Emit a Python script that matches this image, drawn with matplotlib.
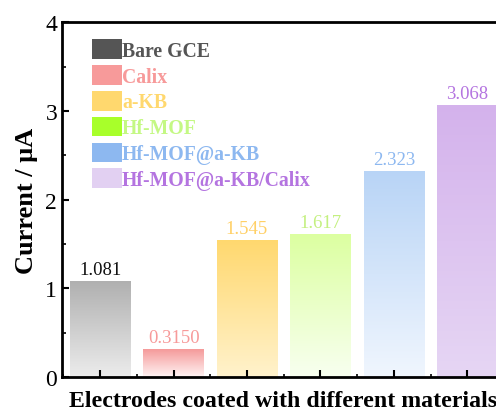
import numpy as np
import matplotlib
matplotlib.use('Agg')
import matplotlib.pyplot as plt
from matplotlib.colors import LinearSegmentedColormap
from matplotlib.patches import Patch
from matplotlib.ticker import MultipleLocator

labels = ['Bare GCE', 'Calix', 'a-KB', 'Hf-MOF', 'Hf-MOF@a-KB', 'Hf-MOF@a-KB/Calix']
values = [1.081, 0.3150, 1.545, 1.617, 2.323, 3.068]
value_text = ['1.081', '0.3150', '1.545', '1.617', '2.323', '3.068']

top_colors = ['#b0b0b0', '#f59a9a', '#ffd86e', '#dcffa0', '#b8d4f6', '#d4b2ec']
bottom_colors = ['#ececec', '#fff4f4', '#fff2cc', '#f8fff0', '#f0f6fe', '#e6d6f4']
legend_colors = ['#555555', '#f79a9a', '#ffd86e', '#a8ff2a', '#8db8f0', '#e2d0f2']
legend_text_colors = ['#555555', '#f79a9a', '#ffd86e', '#c4f884', '#8db8f0', '#b474e0']
value_colors = ['#111111', '#f79a9a', '#ffd066', '#c4f080', '#8db8f0', '#b474e0']

plt.rcParams['font.family'] = ['Liberation Serif', 'DejaVu Serif']

fig = plt.figure(figsize=(4.96, 4.14), dpi=100)
ax = fig.add_axes([0.125, 0.087, 0.891, 0.857])

x = np.arange(len(values))
width = 0.82
bars = ax.bar(x, values, width=width, color='none', edgecolor='none')
grad = np.linspace(0, 1, 256).reshape(-1, 1)
for i, b in enumerate(bars):
    cmap = LinearSegmentedColormap.from_list('g%d' % i, [bottom_colors[i], top_colors[i]])
    im = ax.imshow(grad, cmap=cmap, origin='lower', aspect='auto',
                   extent=(x[i] - width / 2, x[i] + width / 2, 0, values[i]), zorder=1)
    im.set_clip_path(b)
    ax.text(x[i], values[i] + 0.03, value_text[i], ha='center', va='bottom',
            fontsize=13.5, color=value_colors[i])

ax.set_xlim(-0.52, 5.5)
ax.set_ylim(0, 4)
ax.set_xticks(x)
ax.set_xticklabels([])
ax.xaxis.set_minor_locator(MultipleLocator(0.5))
ax.yaxis.set_major_locator(MultipleLocator(1))
ax.yaxis.set_minor_locator(MultipleLocator(0.5))
ax.tick_params(axis='both', which='major', direction='in', length=5, width=1.5, labelsize=17)
ax.tick_params(axis='both', which='minor', direction='in', length=3, width=1.2)
ax.tick_params(axis='x', which='minor', length=2)
for s in ax.spines.values():
    s.set_linewidth(2)

ax.set_xlabel('Electrodes coated with different materials', fontsize=17.2, fontweight='bold', labelpad=6)
ax.set_ylabel('Current / μA', fontsize=19, fontweight='bold', labelpad=5)

handles = [Patch(facecolor=c, edgecolor='none') for c in legend_colors]
leg = ax.legend(handles, labels, loc='upper left', bbox_to_anchor=(0.04, 0.985), frameon=False,
                prop={'weight': 'bold', 'size': 14.2}, handlelength=1.55, handleheight=1.15,
                handletextpad=0.0, labelspacing=0.22, borderaxespad=0.2)
for t, c in zip(leg.get_texts(), legend_text_colors):
    t.set_color(c)

fig.savefig('out.png', dpi=100)
